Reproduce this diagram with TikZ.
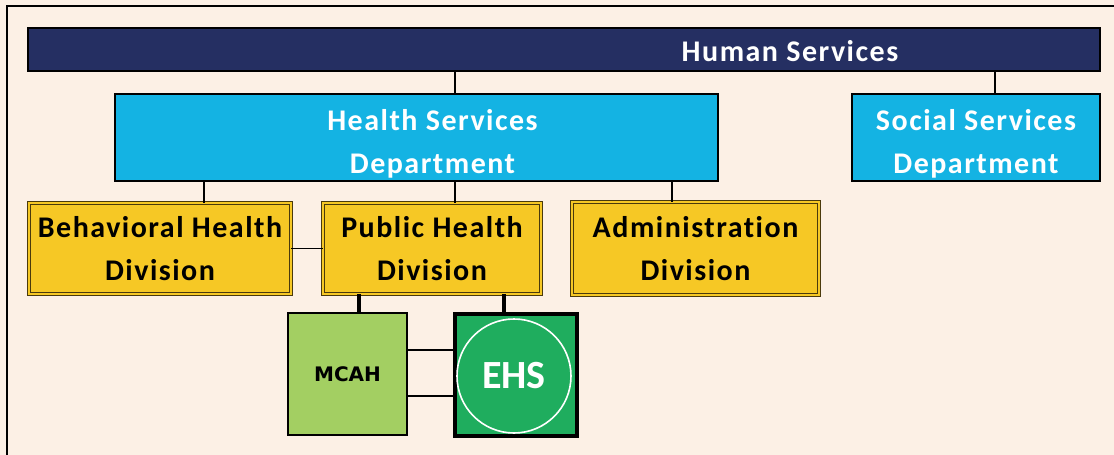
\documentclass[tikz,border=0pt]{standalone}
\usepackage{fontspec}
\setmainfont{Carlito}
\newfontfamily\orgfont[LetterSpace=5, Ligatures=NoCommon]{Carlito}
\newfontfamily\progfont{DejaVu Sans}
\usetikzlibrary{positioning}

\definecolor{creambg}{HTML}{FCF0E5}
\definecolor{hsnavy}{HTML}{252F62}
\definecolor{deptcyan}{HTML}{14B3E3}
\definecolor{divyellow}{HTML}{F6C825}
\definecolor{divedge}{HTML}{4A3A0C}
\definecolor{mcahgreen}{HTML}{A3CF62}
\definecolor{ehsgreen}{HTML}{1FAD5E}

\newcommand{\orglabel}{\orgfont\bfseries\fontsize{30}{43}\selectfont}
\newcommand{\deptstrut}{\rule{0pt}{34pt}}

\begin{document}
\begin{tikzpicture}[x=1pt, y=-1pt,
    unit/.style={draw=black, line width=1.2pt, anchor=north west, inner sep=0pt, outer sep=0pt, align=center, font=\orglabel},
    top/.style={unit, fill=hsnavy, line width=1.8pt},
    dept/.style={unit, fill=deptcyan, text=white},
    division/.style={unit, fill=divyellow, draw=divedge, double=divyellow, line width=1.1pt, double distance=1.6pt},
    program/.style={unit, fill=mcahgreen},
    link/.style={draw=black, line width=1.8pt},
    biglink/.style={link, line width=3.2pt}]

    % Background and frame
    \useasboundingbox (0,0) rectangle (1114,455);
    \fill[creambg] (0,0) rectangle (1114,455);
    \draw[line width=1.3pt] (7,455) -- (7,6) -- (1114,6);

    % Top level
    \node[top, minimum width=1072pt, minimum height=43pt] (hs) at (28,28) {};
    \node[text=white, font=\orglabel, inner sep=0pt] (hslabel) at (790,51) {Human Services};

    % Departments
    \node[dept, minimum width=603pt, minimum height=87pt] (health) at (115,94) {\deptstrut\hspace*{32pt}Health Services\\\hspace*{32pt}Department};
    \node[dept, minimum width=248pt, minimum height=87pt] (social) at (852,94) {\deptstrut Social Services\\Department};

    % Divisions
    \node[division, minimum width=262pt, minimum height=91pt] (behavioral) at (29,203) {Behavioral Health\\Division};
    \node[division, minimum width=218pt, minimum height=91pt] (public) at (323,203) {Public Health\\Division};
    \node[division, minimum width=247pt, minimum height=93pt] (admin) at (572,202) {Administration\\Division};

    % Programs
    \node[program, minimum width=119pt, minimum height=122pt, font=\progfont\bfseries\fontsize{20}{22}\selectfont] (mcah) at (288,313) {MCAH};
    \node[unit, fill=ehsgreen, line width=3.2pt, minimum width=122pt, minimum height=122pt] (ehs) at (455,314) {};
    \node[circle, draw=white, line width=1.6pt, minimum size=114pt, inner sep=0pt, text=white, font=\bfseries\fontsize{40}{42}\selectfont] (ehslogo) at (514,376) {EHS};

    % Drop points
    \coordinate (leftdrop) at (204,0);
    \coordinate (middrop) at (455,0);
    \coordinate (rightdrop) at (672,0);
    \coordinate (socialdrop) at (995,0);
    \coordinate (mcahdrop) at (359,0);
    \coordinate (ehsdrop) at (504,0);

    % Connecting lines
    \draw[link] (hs.south -| middrop) -- (health.north -| middrop);
    \draw[link] (hs.south -| socialdrop) -- (social.north -| socialdrop);
    \draw[link] (health.south -| leftdrop) -- (behavioral.north -| leftdrop);
    \draw[link] (health.south -| middrop) -- (public.north -| middrop);
    \draw[link] (health.south -| rightdrop) -- (admin.north -| rightdrop);
    \draw[link] (behavioral.east) -- (public.west);
    \draw[biglink] (public.south -| mcahdrop) -- (mcah.north -| mcahdrop);
    \draw[biglink] (public.south -| ehsdrop) -- (ehs.north -| ehsdrop);
    \draw[link] ([yshift=24pt]mcah.east) -- ([yshift=24pt]mcah.east -| ehs.west);
    \draw[link] ([yshift=-22pt]mcah.east) -- ([yshift=-22pt]mcah.east -| ehs.west);
\end{tikzpicture}
\end{document}
